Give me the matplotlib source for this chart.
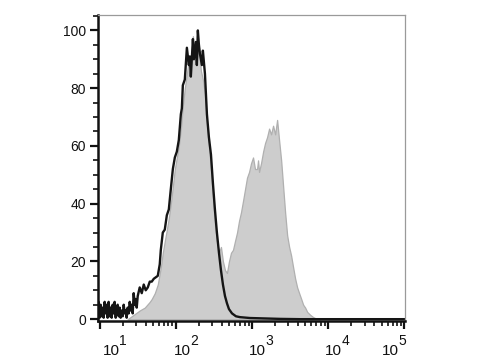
import matplotlib
matplotlib.use("Agg")
import matplotlib.pyplot as plt
import matplotlib.transforms as mtransforms
from matplotlib.ticker import LogLocator, MultipleLocator, NullFormatter
import numpy as np

plt.rcParams['font.family'] = ['Liberation Sans', 'DejaVu Sans']

# control histogram (black line): log10 intensity, % of max
ctrl_log = [0.974, 0.987, 1.000, 1.013, 1.026, 1.039, 1.053, 1.066, 1.079, 1.092,
            1.105, 1.118, 1.132, 1.145, 1.158, 1.171, 1.184, 1.197, 1.211, 1.224,
            1.237, 1.250, 1.263, 1.276, 1.289, 1.303, 1.316, 1.329, 1.342, 1.355,
            1.368, 1.382, 1.395, 1.408, 1.421, 1.434, 1.447, 1.461, 1.474, 1.487,
            1.500, 1.526, 1.553, 1.579, 1.605, 1.632, 1.658, 1.684, 1.711, 1.737,
            1.763, 1.789, 1.803, 1.829, 1.855, 1.882, 1.908, 1.934, 1.961, 1.987,
            2.013, 2.039, 2.066, 2.079, 2.092, 2.118, 2.145, 2.171, 2.184, 2.197,
            2.224, 2.237, 2.263, 2.276, 2.289, 2.303, 2.316, 2.342, 2.355, 2.382,
            2.408, 2.434, 2.461, 2.487, 2.513, 2.539, 2.566, 2.592, 2.618, 2.645,
            2.671, 2.697, 2.737, 2.789, 2.842, 2.974, 3.105, 3.368, 3.632, 5.0]
ctrl_val = [2, 6, 0.5, 5, 1, 4, 0.5, 6, 2, 5,
            0.5, 6, 1, 4, 0.5, 5, 2, 6, 0.5, 4,
            5, 1, 4, 0.5, 3, 1, 5, 2, 3, 0.5,
            4, 2, 6, 3, 5, 2, 9, 5, 7, 4,
            8, 11, 9, 12, 10, 11, 13, 13, 14, 14.5,
            15, 19, 24, 30, 31, 36, 38, 45, 52, 56,
            58, 62, 71, 73, 81, 83, 94, 88, 91, 84,
            97, 90, 96, 88, 100, 95, 92, 88, 93, 85,
            71, 63, 57, 47, 38, 30, 23, 17, 12, 8,
            5.5, 3.5, 2, 1, 0.7, 0.4, 0.3, 0.1, 0, 0]

# stained sample (grey filled)
stain_log = [1.368, 1.421, 1.474, 1.526, 1.592, 1.658, 1.684, 1.724, 1.763, 1.803,
             1.829, 1.855, 1.882, 1.908, 1.934, 1.961, 1.987, 2.013, 2.039, 2.066,
             2.092, 2.118, 2.145, 2.171, 2.197, 2.224, 2.250, 2.276, 2.303, 2.329,
             2.355, 2.382, 2.408, 2.434, 2.461, 2.487, 2.513, 2.539, 2.566, 2.592,
             2.618, 2.645, 2.671, 2.697, 2.724, 2.750, 2.776, 2.803, 2.829, 2.855,
             2.882, 2.908, 2.934, 2.961, 2.987, 3.013, 3.039, 3.066, 3.079, 3.092,
             3.118, 3.145, 3.171, 3.197, 3.224, 3.250, 3.276, 3.303, 3.329, 3.355,
             3.382, 3.408, 3.434, 3.461, 3.487, 3.513, 3.539, 3.566, 3.592, 3.618,
             3.645, 3.671, 3.697, 3.724, 3.763, 3.803, 3.842, 3.895]
stain_val = [0, 1, 2, 3, 4, 6, 7, 9, 12, 18,
             23, 27, 31, 35, 40, 46, 52, 56, 60, 66,
             74, 80, 85, 90, 88, 98, 92, 90, 94, 86,
             83, 78, 68, 60, 52, 42, 33, 27, 23, 25,
             20, 17, 16, 20, 23, 24, 27, 30, 34, 37,
             41, 45, 49, 51, 54, 56, 52, 52, 55, 51,
             54, 58, 61, 63, 66, 64, 67, 64, 69, 62,
             55, 46, 37, 29, 25, 22, 18, 14, 11, 9,
             7, 5, 4, 2.5, 1.5, 0.7, 0.2, 0]

xtick_vals = [10, 100, 1000, 10000, 100000]
xtick_exps = ['1', '2', '3', '4', '5']
xlabel_shift = [11.5, 6.5, 5, 5.5, -14]  # px, labels sit a bit off their ticks

fig = plt.figure(figsize=(4.8, 3.6), dpi=100)
ax = fig.add_axes([0.204, 0.107, 0.640, 0.851])

sx = 10 ** np.array(stain_log)
cx = 10 ** np.array(ctrl_log)
ax.fill_between(sx, stain_val, 0, facecolor='#cdcdcd',
                edgecolor='#b0b0b0', linewidth=0.9)
ax.plot(cx, ctrl_val, color='#151515', linewidth=1.7)

ax.set_xscale('log')
ax.set_xlim(9.5, 1.02e5)
ax.set_ylim(-0.8, 105.3)

ax.set_xticks(xtick_vals)
ax.set_xticklabels([])
ax.xaxis.set_minor_locator(LogLocator(base=10, subs=np.arange(2, 10)))
ax.xaxis.set_minor_formatter(NullFormatter())

# "10" with a large raised exponent, as in the original
px = 0.72 / 72  # one pixel in inches at 100 dpi
trans = ax.get_xaxis_transform()
for v, e, dx in zip(xtick_vals, xtick_exps, xlabel_shift):
    base = mtransforms.ScaledTranslation(dx * px, -33.5 * px, fig.dpi_scale_trans)
    ax.text(v, 0, '10', transform=trans + base, ha='center', va='baseline',
            fontsize=11, color='#111111', clip_on=False)
    sup = mtransforms.ScaledTranslation((dx + 8) * px, -23.5 * px, fig.dpi_scale_trans)
    ax.text(v, 0, e, transform=trans + sup, ha='left', va='baseline',
            fontsize=10, color='#111111', clip_on=False)

ax.yaxis.set_major_locator(MultipleLocator(20))
ax.yaxis.set_minor_locator(MultipleLocator(5))
ax.tick_params(axis='y', labelsize=10, labelcolor='#111111')

ax.tick_params(which='major', direction='out', length=6, width=1.6, color='#111111', pad=2.5)
ax.tick_params(which='minor', direction='out', length=3.5, width=1.2, color='#111111')

for side in ['left', 'bottom']:
    ax.spines[side].set_linewidth(1.8)
    ax.spines[side].set_color('#111111')
for side in ['top', 'right']:
    ax.spines[side].set_linewidth(0.9)
    ax.spines[side].set_color('#9a9a9a')

fig.savefig('out.png', dpi=100)
